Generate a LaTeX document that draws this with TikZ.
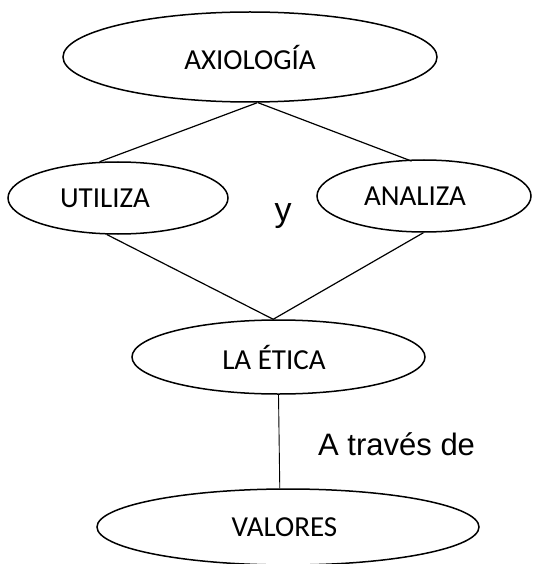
\documentclass[tikz,border=0pt]{standalone}
\usepackage{fontspec}
\setmainfont{Carlito}
\newfontfamily\arialfont{Liberation Sans}
\usetikzlibrary{shapes.geometric}

\begin{document}
\begin{tikzpicture}[x=1pt,y=-1pt,
    oval/.style={draw,ellipse,line width=1.5pt,inner sep=0pt,
      font=\fontsize{29}{35}\selectfont},
    link/.style={line width=1.2pt}]
        \useasboundingbox (0,0) rectangle (532,564);
        % ovals
        \node[oval,minimum width=374pt,minimum height=90pt] (axio) at (250,57) {AXIOLOGÍA};
        \node[oval,minimum width=220pt,minimum height=72pt] (util) at (118,198) {UTILIZA\hspace*{26pt}};
        \node[oval,minimum width=214pt,minimum height=72pt] (ana) at (424,196) {ANALIZA\hspace*{18pt}};
        \node[oval,minimum width=293pt,minimum height=74pt] (etica) at (278.5,357) {LA ÉTICA\hspace*{9pt}};
        \node[oval,minimum width=382pt,minimum height=76pt] (val) at (288,527) {VALORES\hspace*{7pt}};
        % words between
        \node[anchor=base,inner sep=0pt,font=\arialfont\fontsize{34}{40}\selectfont] (yy) at (283,221) {y};
        \node[anchor=base west,inner sep=0pt,font=\arialfont\fontsize{31}{37}\selectfont] (traves) at (318,455) {A través de};
        % connectors
        \draw[link] (axio.-81) -- (util.117);
        \draw[link,shorten >=-4pt] (axio.-80) -- (ana.114);
        \draw[link] (util.-107) -- (etica.98) -- (ana.-91);
        \draw[line width=0.9pt] (etica.-90) -- (val.102);
        %\draw[link] (etica.south) -- (val.north);
\end{tikzpicture}
\end{document}
